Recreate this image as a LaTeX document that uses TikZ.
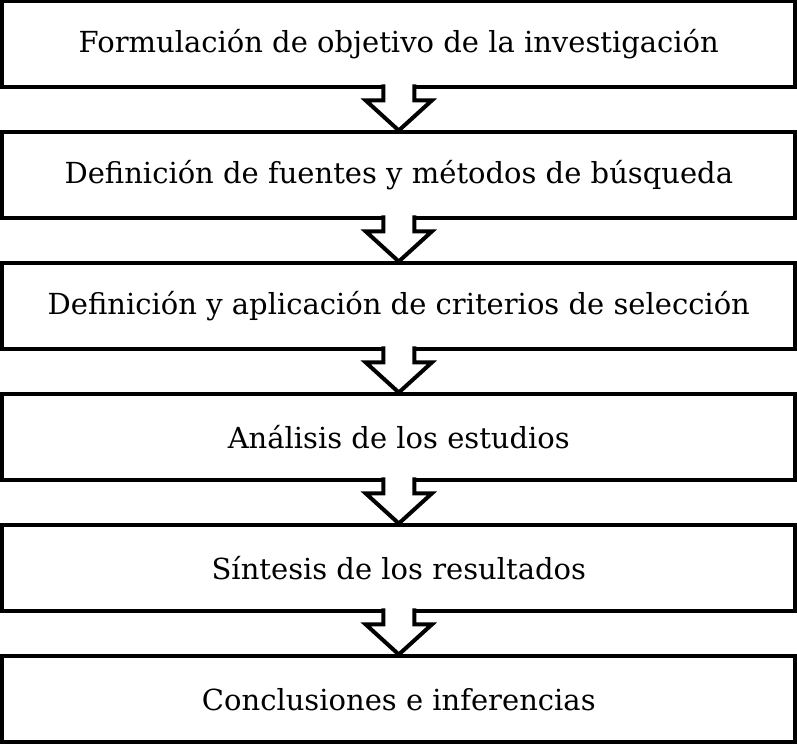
\documentclass[tikz,border=0pt]{standalone}
\usepackage{fontspec}
\setmainfont{DejaVu Serif}
\usepackage{tikz}
\usetikzlibrary{calc}

\begin{document}
\begin{tikzpicture}[x=1pt,y=1pt,
  paso/.style={rectangle,draw,line width=4pt,minimum width=793pt,minimum height=86pt,inner sep=0pt,font=\fontsize{29}{34}\selectfont},
  flecha/.style={line width=4pt,fill=white,line join=miter}]

\useasboundingbox (0,0) rectangle (797,746);

    \node[paso] (f1) at (398.8,701.5) {Formulación de objetivo de la investigación};
    \node[paso] (f2) at (398.8,570.5) {Definición de fuentes y métodos de búsqueda};
    \node[paso] (f3) at (398.8,439.5) {Definición y aplicación de criterios de selección};
    \node[paso] (f4) at (398.8,308.5) {Análisis de los estudios};
    \node[paso] (f5) at (398.8,177.5) {Síntesis de los resultados};
    \node[paso] (f6) at (398.8,46.5) {Conclusiones e inferencias};

% flechas entre pasos
\foreach \a/\b in {f1/f2,f2/f3,f3/f4,f4/f5,f5/f6}
  \filldraw[flecha] ($(\a.south)+(-15.5,5)$) -- ($(\a.south)+(-15.5,-11)$) -- ($(\a.south)+(-33,-11)$) -- (\b.north)
    -- ($(\a.south)+(33,-11)$) -- ($(\a.south)+(15.5,-11)$) -- ($(\a.south)+(15.5,5)$);

\end{tikzpicture}
\end{document}
